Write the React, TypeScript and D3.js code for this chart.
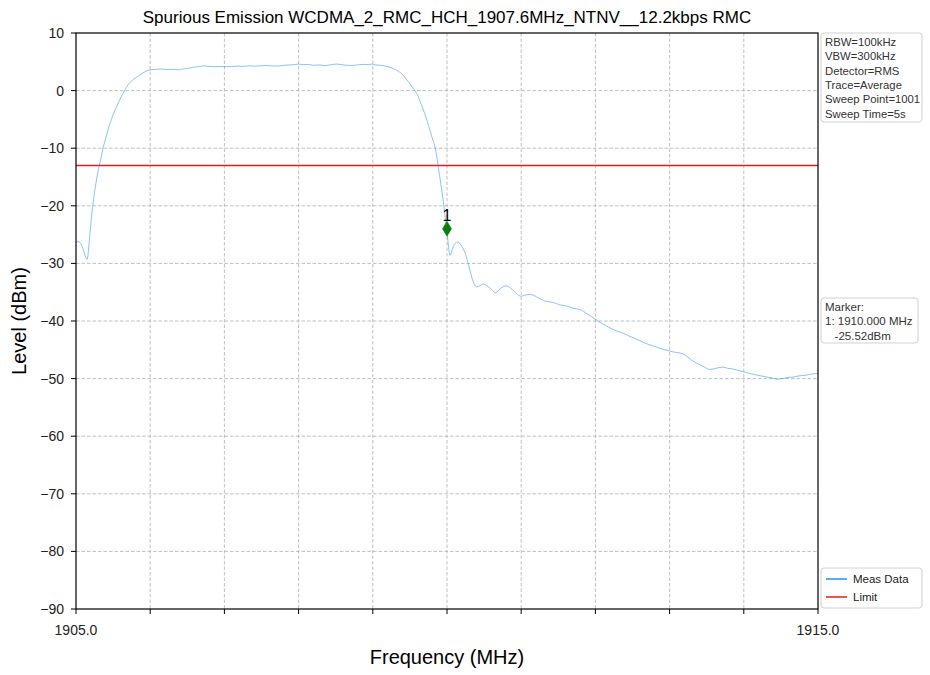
import React from "react";
import * as d3 from "d3";

const TITLE = "Spurious Emission WCDMA_2_RMC_HCH_1907.6MHz_NTNV__12.2kbps RMC";
const X_LABEL = "Frequency (MHz)";
const Y_LABEL = "Level (dBm)";
const X_DOMAIN = [1905, 1915];
const Y_DOMAIN = [-90, 10];
const X_TICK_VALUES = [1905, 1906, 1907, 1908, 1909, 1910, 1911, 1912, 1913, 1914, 1915];
const X_TICK_LABELS = ["1905.0", "", "", "", "", "", "", "", "", "", "1915.0"];
const Y_TICK_VALUES = [10, 0, -10, -20, -30, -40, -50, -60, -70, -80, -90];
const LIMIT_LEVEL = -13;
const MARKER_FREQ = 1910.0;
const MARKER_PLOT_LEVEL = -24;
const MARKER_LABEL = "1";
const INFO_LINES = ["RBW=100kHz", "VBW=300kHz", "Detector=RMS", "Trace=Average", "Sweep Point=1001", "Sweep Time=5s"];
const MARKER_LINES = ["Marker:", "1: 1910.000 MHz", "   -25.52dBm"];
const LEGEND_ITEMS = ["Meas Data", "Limit"];

const FREQ = [
  1905.00, 1905.03, 1905.06, 1905.09, 1905.12, 1905.15, 1905.18, 1905.21, 1905.24, 1905.27,
  1905.30, 1905.33, 1905.36, 1905.40, 1905.45, 1905.50, 1905.55, 1905.60, 1905.65, 1905.70,
  1905.75, 1905.80, 1905.86, 1905.92, 1906.00, 1906.08, 1906.15, 1906.22, 1906.30, 1906.38,
  1906.44, 1906.52, 1906.60, 1906.68, 1906.72, 1906.80, 1906.88, 1906.96, 1907.03, 1907.10,
  1907.18, 1907.26, 1907.34, 1907.42, 1907.48, 1907.56, 1907.64, 1907.72, 1907.80, 1907.88,
  1907.94, 1908.00, 1908.06, 1908.12, 1908.20, 1908.28, 1908.34, 1908.40, 1908.46, 1908.51,
  1908.58, 1908.64, 1908.70, 1908.76, 1908.82, 1908.88, 1908.94, 1908.98, 1909.04, 1909.10,
  1909.16, 1909.22, 1909.28, 1909.34, 1909.40, 1909.45, 1909.50, 1909.55, 1909.60, 1909.65,
  1909.70, 1909.75, 1909.80, 1909.84, 1909.88, 1909.92, 1909.95, 1909.98, 1910.00, 1910.02,
  1910.04, 1910.07, 1910.10, 1910.14, 1910.17, 1910.21, 1910.25, 1910.28, 1910.31, 1910.34,
  1910.37, 1910.40, 1910.44, 1910.49, 1910.54, 1910.60, 1910.65, 1910.70, 1910.75, 1910.80,
  1910.85, 1910.90, 1910.95, 1911.00, 1911.05, 1911.10, 1911.16, 1911.22, 1911.28, 1911.34,
  1911.40, 1911.46, 1911.52, 1911.58, 1911.64, 1911.70, 1911.76, 1911.81, 1911.87, 1911.93,
  1912.00, 1912.07, 1912.14, 1912.21, 1912.28, 1912.35, 1912.42, 1912.49, 1912.56, 1912.63,
  1912.70, 1912.77, 1912.84, 1912.91, 1913.00, 1913.06, 1913.12, 1913.18, 1913.24, 1913.30,
  1913.36, 1913.41, 1913.47, 1913.54, 1913.60, 1913.66, 1913.72, 1913.78, 1913.84, 1913.90,
  1913.96, 1914.02, 1914.08, 1914.14, 1914.22, 1914.30, 1914.38, 1914.45, 1914.52, 1914.60,
  1914.68, 1914.76, 1914.84, 1914.92, 1915.00,
];

const LEVEL = [
  -26.4, -26.2, -26.5, -27.3, -28.5, -29.3, -26.0, -21.8, -18.6, -16.0,
  -13.8, -12.1, -10.2, -8.3, -6.0, -4.2, -2.7, -1.3, -0.1, 1.0,
  1.7, 2.2, 2.7, 3.2, 3.6, 3.7, 3.75, 3.65, 3.7, 3.6,
  3.75, 3.9, 4.1, 4.2, 4.3, 4.2, 4.15, 4.2, 4.15, 4.2,
  4.25, 4.2, 4.3, 4.25, 4.3, 4.35, 4.3, 4.25, 4.4, 4.45,
  4.5, 4.6, 4.5, 4.55, 4.4, 4.45, 4.35, 4.4, 4.55, 4.6,
  4.5, 4.4, 4.35, 4.4, 4.5, 4.55, 4.5, 4.6, 4.45, 4.4,
  4.3, 4.1, 3.8, 3.4, 2.8, 2.0, 1.2, 0.3, -0.7, -2.3,
  -4.0, -6.0, -8.2, -9.9, -13.0, -16.5, -19.2, -22.5, -24.3, -27.0,
  -28.6, -27.6, -26.7, -26.3, -26.5, -27.3, -28.4, -29.8, -31.2, -32.7,
  -33.7, -34.1, -33.9, -33.6, -33.9, -34.5, -35.1, -34.6, -34.1, -33.9,
  -34.2, -34.8, -35.4, -35.7, -35.5, -35.4, -35.5, -35.9, -36.3, -36.6,
  -36.7, -36.9, -37.2, -37.3, -37.5, -37.8, -37.9, -38.1, -38.6, -39.1,
  -39.7, -40.3, -40.8, -41.3, -41.7, -42.0, -42.4, -42.8, -43.2, -43.6,
  -44.0, -44.3, -44.6, -44.9, -45.2, -45.4, -45.5, -45.7, -46.2, -46.8,
  -47.3, -47.6, -48.0, -48.4, -48.3, -48.1, -48.0, -48.2, -48.3, -48.5,
  -48.7, -48.9, -49.1, -49.3, -49.5, -49.7, -49.9, -50.1, -50.0, -49.8,
  -49.7, -49.5, -49.4, -49.2, -49.1,
];

const W = 930;
const H = 675;
const M = { left: 76, right: 818, top: 33, bottom: 609 };
const FONT = "'Liberation Sans', Arial, sans-serif";
const TRACE_COLOR = "#1e90ff";
const LIMIT_COLOR = "#e8191c";
const GRID_COLOR = "#b0b0b0";
const TEXT_COLOR = "#222";

export default function App() {
  const x = d3.scaleLinear().domain(X_DOMAIN).range([M.left, M.right]);
  const y = d3.scaleLinear().domain(Y_DOMAIN).range([M.bottom, M.top]);
  const pts: [number, number][] = FREQ.map((f, i) => [f, LEVEL[i]]);
  const line = d3
    .line<[number, number]>()
    .x((d) => x(d[0]))
    .y((d) => y(d[1]))
    .curve(d3.curveMonotoneX);

  const mx = x(MARKER_FREQ);
  const my = y(MARKER_PLOT_LEVEL);
  const fmtY = (v: number) => (v < 0 ? "\u2212" + Math.abs(v) : String(v));

  const boxX = 821;
  return (
    <div style={{ position: "absolute", left: 0, top: 0 }}>
      <svg width={W} height={H} style={{ display: "block", background: "#fff" }} fontFamily={FONT}>
        <rect x={0} y={0} width={W} height={H} fill="#fff" />
        {/* grid */}
        {X_TICK_VALUES.slice(1, -1).map((v) => (
          <line key={"gx" + v} x1={x(v)} x2={x(v)} y1={M.top} y2={M.bottom} stroke={GRID_COLOR} strokeWidth={0.8} strokeDasharray="3.5,2" />
        ))}
        {Y_TICK_VALUES.slice(1, -1).map((v) => (
          <line key={"gy" + v} x1={M.left} x2={M.right} y1={y(v)} y2={y(v)} stroke={GRID_COLOR} strokeWidth={0.8} strokeDasharray="3.5,2" />
        ))}
        {/* limit */}
        <line x1={M.left} x2={M.right} y1={y(LIMIT_LEVEL)} y2={y(LIMIT_LEVEL)} stroke={LIMIT_COLOR} strokeWidth={1.3} />
        {/* trace */}
        <path d={line(pts) || ""} fill="none" stroke={TRACE_COLOR} strokeOpacity={0.6} strokeWidth={0.9} />
        {/* marker */}
        <path d={`M${mx},${my - 7.5} L${mx + 4.5},${my} L${mx},${my + 7.5} L${mx - 4.5},${my} Z`} fill="#0a7d0a" stroke="#0a7d0a" strokeWidth={0.5} />
        <text x={mx} y={my - 8} textAnchor="middle" fontSize={16} fill="#000">{MARKER_LABEL}</text>
        {/* frame */}
        <rect x={M.left} y={M.top} width={M.right - M.left} height={M.bottom - M.top} fill="none" stroke="#000" strokeWidth={1.2} />
        {/* x ticks */}
        {X_TICK_VALUES.map((v, i) => (
          <g key={"xt" + v}>
            <line x1={x(v)} x2={x(v)} y1={M.bottom} y2={M.bottom + 5} stroke="#000" strokeWidth={1} />
            {X_TICK_LABELS[i] && (
              <text x={x(v)} y={M.bottom + 26} textAnchor="middle" fontSize={14} fill={TEXT_COLOR}>{X_TICK_LABELS[i]}</text>
            )}
          </g>
        ))}
        {/* y ticks */}
        {Y_TICK_VALUES.map((v) => (
          <g key={"yt" + v}>
            <line x1={M.left - 5} x2={M.left} y1={y(v)} y2={y(v)} stroke="#000" strokeWidth={1} />
            <text x={M.left - 12} y={y(v) + 5} textAnchor="end" fontSize={14} fill={TEXT_COLOR}>{fmtY(v)}</text>
          </g>
        ))}
        {/* titles */}
        <text x={(M.left + M.right) / 2} y={23} textAnchor="middle" fontSize={17} fill="#000">{TITLE}</text>
        <text x={(M.left + M.right) / 2} y={664} textAnchor="middle" fontSize={20} fill="#000">{X_LABEL}</text>
        <text transform={`translate(26, ${(M.top + M.bottom) / 2}) rotate(-90)`} textAnchor="middle" fontSize={20} fill="#000">{Y_LABEL}</text>
        {/* info box */}
        <rect x={boxX} y={33} width={101} height={89} rx={3} fill="#fff" stroke="#d0d0d0" strokeWidth={1} />
        {INFO_LINES.map((t, i) => (
          <text key={t} x={boxX + 4} y={46 + i * 14.3} fontSize={11.3} fill="#333">{t}</text>
        ))}
        {/* marker box */}
        <rect x={boxX} y={298} width={97} height={45} rx={3} fill="#fff" stroke="#d0d0d0" strokeWidth={1} />
        {MARKER_LINES.map((t, i) => (
          <text key={t} x={boxX + 4} y={311 + i * 14.3} fontSize={11.5} fill="#333" style={{ whiteSpace: "pre" }}>{t}</text>
        ))}
        {/* legend */}
        <rect x={boxX} y={568} width={101} height={40} rx={3} fill="#fff" stroke="#d0d0d0" strokeWidth={1} />
        {LEGEND_ITEMS.map((t, i) => (
          <g key={t}>
            <line x1={boxX + 5} x2={boxX + 26} y1={579 + i * 18} y2={579 + i * 18} stroke={i === 0 ? TRACE_COLOR : LIMIT_COLOR} strokeWidth={1.5} />
            <text x={boxX + 32} y={583 + i * 18} fontSize={11.5} fill="#222">{t}</text>
          </g>
        ))}
      </svg>
    </div>
  );
}
